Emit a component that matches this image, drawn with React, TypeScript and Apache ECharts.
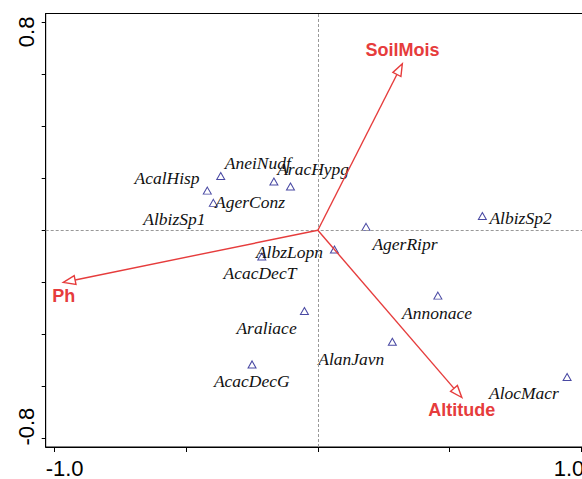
import React, { useEffect, useRef } from "react";
import * as echarts from "echarts";

// Species scores (triangles)
const species = ["AcalHisp", "AneiNudf", "AracHypg", "AgerConz", "AlbizSp1", "AcacDecT", "AlbzLopn", "AgerRipr", "AlbizSp2", "Annonace", "AlanJavn", "Araliace", "AcacDecG", "AlocMacr"];
const speciesX = [-0.42, -0.369, -0.104, -0.167, -0.397, -0.213, 0.063, 0.183, 0.625, 0.456, 0.283, -0.051, -0.25, 0.947];
const speciesY = [0.152, 0.208, 0.168, 0.187, 0.105, -0.101, -0.074, 0.013, 0.055, -0.251, -0.428, -0.31, -0.515, -0.563];
// Species label positions
const speciesLabelX = [-0.573, -0.228, -0.018, -0.258, -0.545, -0.22, -0.108, 0.331, 0.77, 0.453, 0.127, -0.195, -0.251, 0.783];
const speciesLabelY = [0.199, 0.257, 0.237, 0.108, 0.044, -0.165, -0.085, -0.051, 0.048, -0.316, -0.494, -0.374, -0.579, -0.624];

// Environmental vectors
const envNames = ["SoilMois", "Ph", "Altitude"];
const envX = [0.321, -0.967, 0.547];
const envY = [0.639, -0.2, -0.642];
const envLabelX = [0.322, -0.965, 0.547];
const envLabelY = [0.69, -0.253, -0.69];

// Axis ticks and labels
const xTicks = [-1, -0.5, 0, 0.5, 1];
const xTickLabels = [-1, 1];
const yTicks = [-0.8, -0.6, -0.4, -0.2, 0, 0.2, 0.4, 0.6, 0.8];
const yTickLabels = [-0.8, 0.8];

const RED = "#e63c3c";
const NAVY = "#1c1c8c";

export default function App() {
  const ref = useRef<HTMLDivElement>(null);
  useEffect(() => {
    if (!ref.current) return;
    const chart = echarts.init(ref.current, undefined, { renderer: "svg" });

    const speciesData = species.map((n, i) => ({ name: n, value: [speciesX[i], speciesY[i]] }));
    const speciesLabels = species.map((n, i) => [speciesLabelX[i], speciesLabelY[i], n]);
    const envData = envNames.map((n, i) => [envX[i], envY[i], envLabelX[i], envLabelY[i], n]);

    chart.setOption({
      animation: false,
      grid: {
        left: 45.7,
        top: 13.5,
        width: 544.3,
        height: 437.5,
        show: true,
        borderColor: "#000",
        borderWidth: 1,
      },
      xAxis: {
        type: "value",
        min: -1.034,
        max: 1.034,
        splitLine: { show: false },
        axisLine: { show: true, onZero: false, lineStyle: { color: "#000", width: 1 } },
        axisTick: { show: true, length: 5, customValues: xTicks, lineStyle: { color: "#000" } },
        axisLabel: {
          show: true,
          customValues: xTickLabels,
          margin: 10,
          formatter: (v: number) => (v < 0 ? "{l|" + v.toFixed(1) + "}" : "{r|" + v.toFixed(1) + "}"),
          rich: {
            l: { fontFamily: "Liberation Sans", fontSize: 22, color: "#000", padding: [0, 0, 0, 20] },
            r: { fontFamily: "Liberation Sans", fontSize: 22, color: "#000", padding: [0, 24, 0, 0] },
          },
        },
      },
      yAxis: {
        type: "value",
        min: -0.832,
        max: 0.832,
        splitLine: { show: false },
        axisLine: { show: true, onZero: false, lineStyle: { color: "#000", width: 1 } },
        axisTick: { show: true, length: 4, customValues: yTicks, lineStyle: { color: "#000" } },
        axisLabel: {
          show: true,
          customValues: yTickLabels,
          rotate: 90,
          margin: 8,
          formatter: (v: number) => (v > 0 ? "{p|" + v.toFixed(1) + "}" : "{n|" + v.toFixed(1) + "}"),
          rich: {
            p: { fontFamily: "Liberation Sans", fontSize: 22, color: "#000", padding: [0, 20, 0, 0] },
            n: { fontFamily: "Liberation Sans", fontSize: 22, color: "#000", padding: [0, 0, 0, 24] },
          },
        },
      },
      series: [
        {
          type: "scatter",
          symbol: "triangle",
          symbolSize: [8, 7],
          itemStyle: { color: "transparent", borderColor: NAVY, borderWidth: 1 },
          data: speciesData,
          markLine: {
            silent: true,
            symbol: ["none", "none"],
            label: { show: false },
            lineStyle: { type: [3, 2], color: "#999", width: 1 },
            data: [{ xAxis: 0 }, { yAxis: 0 }],
          },
          z: 3,
        },
        {
          type: "custom",
          data: speciesLabels,
          renderItem: (params: any, api: any) => {
            const p = api.coord([api.value(0), api.value(1)]);
            return {
              type: "text",
              x: p[0],
              y: p[1],
              style: {
                text: speciesLabels[params.dataIndex][2] as string,
                fill: "#111",
                fontFamily: "Liberation Serif",
                fontStyle: "italic",
                fontSize: 17.5,
                align: "center",
                verticalAlign: "middle",
              },
            };
          },
          z: 4,
        },
        {
          type: "custom",
          data: envData,
          renderItem: (params: any, api: any) => {
            const o = api.coord([0, 0]);
            const t = api.coord([api.value(0), api.value(1)]);
            const l = api.coord([api.value(2), api.value(3)]);
            const dx = t[0] - o[0];
            const dy = t[1] - o[1];
            const len = Math.sqrt(dx * dx + dy * dy);
            const ux = dx / len;
            const uy = dy / len;
            const hl = 12;
            const hw = 4.5;
            const bx = t[0] - ux * hl;
            const by = t[1] - uy * hl;
            const px = -uy;
            const py = ux;
            return {
              type: "group",
              children: [
                {
                  type: "line",
                  shape: { x1: o[0], y1: o[1], x2: bx, y2: by },
                  style: { stroke: RED, lineWidth: 1.4 },
                },
                {
                  type: "polygon",
                  shape: {
                    points: [
                      [t[0], t[1]],
                      [bx + px * hw, by + py * hw],
                      [bx - px * hw, by - py * hw],
                    ],
                  },
                  style: { fill: "#fff", stroke: RED, lineWidth: 1.4 },
                },
                {
                  type: "text",
                  x: l[0],
                  y: l[1],
                  style: {
                    text: envData[params.dataIndex][4] as string,
                    fill: RED,
                    fontFamily: "Liberation Sans",
                    fontWeight: "bold",
                    fontSize: 18,
                    align: "center",
                    verticalAlign: "middle",
                  },
                },
              ],
            };
          },
          z: 5,
        },
      ],
    });
    return () => chart.dispose();
  }, []);

  return (
    <div style={{ position: "fixed", left: 0, top: 0, width: 582, height: 479, overflow: "hidden", background: "#fff" }}>
      <div ref={ref} style={{ width: 600, height: 479 }} />
    </div>
  );
}
